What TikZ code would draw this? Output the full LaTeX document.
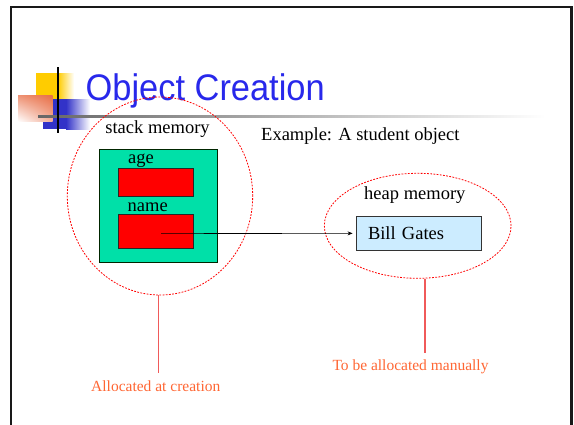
\documentclass[tikz,border=0pt]{standalone}
\usepackage{fontspec}
\setmainfont{Liberation Serif}
\newfontfamily\titlefont{Liberation Sans}
\usetikzlibrary{shapes.geometric,arrows.meta,shadings}

\definecolor{titleblue}{RGB}{40,40,235}
\definecolor{logoyellow}{RGB}{255,204,0}
\definecolor{logoblue}{RGB}{50,50,200}
\definecolor{logoorange}{RGB}{232,110,70}
\definecolor{slotred}{RGB}{255,0,0}
\definecolor{stackgreen}{RGB}{0,224,168}
\definecolor{heapblue}{RGB}{204,236,255}
\definecolor{notecolor}{RGB}{255,102,51}
\definecolor{noteline}{RGB}{240,90,90}

\tikzset{
  region/.style={ellipse, draw=red, line width=0.8pt, dash pattern=on 1.8pt off 1.4pt, inner sep=0pt},
  slot/.style={draw=black!85, fill=slotred, line width=0.8pt, inner sep=0pt},
  object/.style={draw=black!80, fill=heapblue, line width=0.8pt, inner sep=0pt},
  frame/.style={draw=black!85!green, fill=stackgreen, line width=0.8pt, inner sep=0pt},
  lbl/.style={anchor=base west, inner sep=0pt, font=\fontsize{18.5}{20}\selectfont},
  note/.style={anchor=base west, inner sep=0pt, text=notecolor, font=\fontsize{15.5}{17}\selectfont},
  noteconn/.style={draw=noteline, line width=1.3pt},
  pointer/.style={-{Stealth[length=5pt,width=4pt]}, line width=0.6pt, shorten >=3pt}
}

\begin{document}
\begin{tikzpicture}[x=1pt,y=-1pt]
\useasboundingbox (0,0) rectangle (574,424);

% slide border
\draw[line width=2.5pt, black!90] (11.2,426) -- (11.2,7) -- (571.3,7) -- (571.3,426);

% logo squares
\fill[logoyellow] (36,73) rectangle (58,99);
\shade[left color=logoyellow, right color=white] (58,73) rectangle (74,99);
\fill[logoblue] (43,99) rectangle (66,129);
\shade[left color=logoblue, right color=white] (66,99) rectangle (90,129);
\shade[upper left=logoorange!75, upper right=logoorange, lower left=white, lower right=logoorange!55] (18,95) rectangle (52.5,121.5);
\shade[left color=black!60, right color=white] (38,115.8) rectangle (545,117.6);
\draw[line width=1.8pt] (58,67) -- (58,133);

% title
\node[anchor=base west, inner sep=0pt, text=titleblue, font=\titlefont\fontsize{37}{40}\selectfont] (title) at (85.5,100) {\scalebox{0.93}[1]{Object Creation}};

% stack side
\node[region, minimum width=185.4pt, minimum height=198pt] (stack) at (160,196) {};
\node[lbl] (stacklbl) at (105.2,133.3) {stack memory};
\node[frame, minimum width=118pt, minimum height=113pt] (student) at (158.3,205.8) {};
\node[slot, minimum width=75.4pt, minimum height=28.3pt] (age) at (156,182.15) {};
\node[slot, minimum width=75.4pt, minimum height=33.3pt] (name) at (156,231.35) {};
\node[lbl] (agelbl) at (128,163.3) {age};
\node[lbl] (namelbl) at (127.5,211) {name};

\node[lbl] (example) at (261,140) {Example: A student object};

% heap side
\node[region, minimum width=186.7pt, minimum height=105pt] (heap) at (417.7,225.8) {};
\node[lbl] (heaplbl) at (364,199) {heap memory};
\node[object, minimum width=125.7pt, minimum height=33.3pt, text width=101.7pt, align=left, inner xsep=12pt, font=\fontsize{18.5}{20}\selectfont] (gates) at (418.85,233.35) {Bill Gates};

% reference from the name slot to the heap object
\coordinate (ptr) at (161,233.6);
\draw[pointer] (ptr) -- (gates.west);

% notes
\coordinate (stackend) at (158.7,372.7);
\coordinate (heapend) at (425,352.7);
\draw[noteconn] ([xshift=-1.3pt]stack.south) -- (stackend);
\draw[noteconn] ([xshift=7.3pt,yshift=-0.3pt]heap.south) -- (heapend);
\node[note] (creation) at (91,391) {Allocated at creation};
\node[note] (manual) at (332.3,370.7) {To be allocated manually};
\end{tikzpicture}
\end{document}
